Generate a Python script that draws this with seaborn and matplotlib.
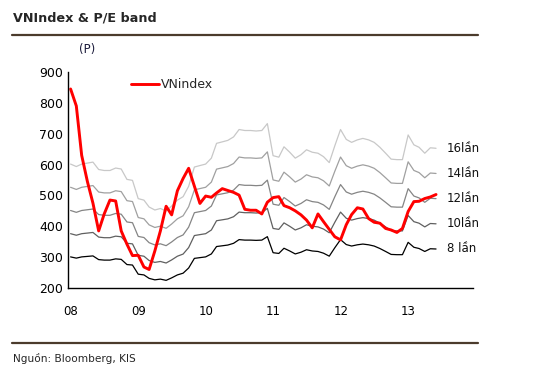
import numpy as np
import pandas as pd
import seaborn as sns
import matplotlib.pyplot as plt
from matplotlib.transforms import ScaledTranslation

# monthly index EPS (points), Jan 2008 - Jun 2013
eps = [37.6, 37.1, 37.6, 37.8, 38.0, 36.5, 36.3, 36.3, 36.8, 36.6, 34.5, 34.3,
       30.6, 30.3, 28.9, 28.3, 28.6, 28.1, 29.1, 30.3, 31.0, 33.1, 37.0, 37.3,
       37.6, 38.8, 41.8, 42.1, 42.4, 43.1, 44.6, 44.4, 44.4, 44.3, 44.4, 45.8,
       39.3, 39.0, 41.1, 40.0, 38.8, 39.5, 40.5, 40.0, 39.8, 39.1, 37.9, 41.3,
       44.6, 42.6, 42.0, 42.5, 42.8, 42.5, 42.0, 41.0, 39.8, 38.6, 38.5, 38.5,
       43.5, 41.5, 41.0, 39.8, 40.9, 40.8]

vnindex = [845, 790, 630, 545, 475, 385, 440, 485, 482, 385, 342, 305,
           306, 268, 260, 320, 385, 465, 437, 515, 555, 588, 530, 474,
           498, 494, 508, 522, 516, 510, 501, 455, 452, 452, 440, 478,
           493, 496, 467, 460, 450, 437, 420, 395, 440, 415, 390, 366,
           356, 405, 438, 460, 456, 425, 413, 410, 393, 388, 380, 393,
           448, 480, 481, 490, 495, 503]

multiples = [16, 14, 12, 10, 8]
band_names = ["16lần", "14lần", "12lần", "10lần", "8 lần"]
band_colors = ["#C8C8C8", "#A0A0A0", "#858585", "#606060", "#000000"]
year_labels = ["08", "09", "10", "11", "12", "13", ""]

dates = pd.date_range("2008-01-01", periods=len(eps), freq="MS") + pd.Timedelta(days=14)

rows = []
for m, name in zip(multiples, band_names):
    for d, e in zip(dates, eps):
        rows.append({"date": d, "band": name, "value": e * m})
bands = pd.DataFrame(rows)
index_df = pd.DataFrame({"date": dates, "value": vnindex})

sns.set_style("white")
plt.rcParams["font.family"] = ["DejaVu Sans"]

fig = plt.figure(figsize=(5.35, 3.78), dpi=100)
ax = fig.add_axes([68 / 535, 1 - 288 / 378, 405 / 535, 216 / 378])

sns.lineplot(data=bands, x="date", y="value", hue="band", hue_order=band_names,
             palette=band_colors, linewidth=0.9, legend=False, ax=ax)
sns.lineplot(data=index_df, x="date", y="value", color="#FF0000", linewidth=2.1,
             label="VNindex", ax=ax)

# band labels next to the last point of each band
for m, name in zip(multiples, band_names):
    ax.text(dates[-1] + pd.Timedelta(days=60), eps[-1] * m, name,
            fontsize=8.5, va="center", ha="left", color="#111111")

ax.set_xlim(pd.Timestamp("2008-01-01"), pd.Timestamp("2014-01-01"))
ax.set_ylim(200, 900)
ax.set_xticks(pd.date_range("2008-01-01", "2014-01-01", freq="YS"))
ax.set_xticklabels(year_labels)
ax.set_yticks(range(200, 901, 100))
ax.set_xlabel("")
ax.set_ylabel("")
ax.tick_params(axis="x", direction="in", length=4, width=1, pad=12.5,
               labelsize=8.5, colors="black")
ax.tick_params(axis="y", direction="in", length=4, width=1, pad=3.5,
               labelsize=9, colors="black")
shift = ScaledTranslation(3 / 100, 0, fig.dpi_scale_trans)
for lab in ax.get_xticklabels():
    lab.set_transform(lab.get_transform() + shift)
for side in ["top", "right"]:
    ax.spines[side].set_visible(False)
for side in ["left", "bottom"]:
    ax.spines[side].set_color("black")
    ax.spines[side].set_linewidth(1)

leg = ax.legend(loc="center left", bbox_to_anchor=(131 / 535, 1 - 85 / 378),
                bbox_transform=fig.transFigure, frameon=False, fontsize=9,
                handlelength=2.2, handletextpad=0.2, borderaxespad=0,
                borderpad=0)

fig.text(79 / 535, 1 - 50 / 378, "(P)", fontsize=8.5, va="center", ha="left",
         color="#1a1a3a")
fig.text(13 / 535, 1 - 18 / 378, "VNIndex & P/E band", fontsize=9.2,
         fontweight="bold", va="center", ha="left")
fig.text(13 / 535, 1 - 358 / 378, "Nguồn: Bloomberg, KIS", fontsize=7.6,
         va="center", ha="left")

# header and footer rules
for y in [34.5, 342.5]:
    fig.add_artist(plt.Line2D([12 / 535, 478 / 535], [1 - y / 378, 1 - y / 378],
                              color="#4B3B2C", linewidth=1.6,
                              transform=fig.transFigure))

fig.savefig("out.png", dpi=100)
